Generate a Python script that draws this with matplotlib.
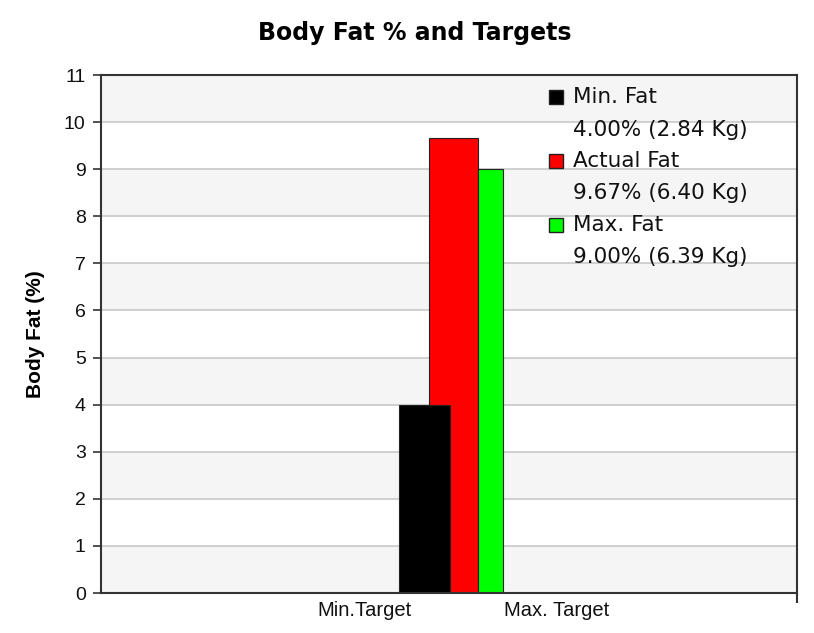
import matplotlib
matplotlib.use("Agg")
import matplotlib.pyplot as plt
from matplotlib.patches import Rectangle

# ---- data ----
title = "Body Fat % and Targets"
y_label = "Body Fat (%)"
x_tick_labels = ["Min.Target", "Max. Target"]
series_names = ["Min. Fat", "Actual Fat", "Max. Fat"]
fat_pct = [4.00, 9.67, 9.00]
fat_kg = [2.84, 6.40, 6.39]
series_colors = ["#000000", "#ff0000", "#00ff00"]
y_ticks = list(range(0, 12))

# ---- layout (axes fraction units) ----
bar_left = [0.4282, 0.4713, 0.5417]
bar_width = [0.0733, 0.0704, 0.0360]
x_tick_pos = [0.378, 0.654]
draw_order = [1, 0, 2]

fig = plt.figure(figsize=(8.14, 6.33), dpi=100)
fig.patch.set_facecolor("white")
ax = fig.add_axes([101 / 814, 40 / 633, 696 / 814, 518 / 633])
ax.set_facecolor("white")
ax.set_xlim(0, 1)
ax.set_ylim(0, 11)

# alternating bands
for lo in range(0, 11, 2):
    ax.axhspan(lo, lo + 1, color="#f5f5f5", zorder=0, lw=0)
for t in y_ticks[1:]:
    ax.axhline(t, color="#c4c4c4", lw=1.1, zorder=1)

for i in draw_order:
    ax.bar(bar_left[i], fat_pct[i], width=bar_width[i], align="edge",
           color=series_colors[i], edgecolor="#222222", linewidth=0.8, zorder=3 + (i == 0))

ax.set_yticks(y_ticks)
ax.set_yticklabels([str(t) for t in y_ticks], fontfamily="Liberation Sans", fontsize=14, color="#111111")
ax.set_xticks(x_tick_pos)
ax.set_xticklabels(x_tick_labels, fontfamily="Liberation Sans", fontsize=14.5, color="#111111")
ax.tick_params(axis="x", length=0, pad=6)
ax.tick_params(axis="y", length=6, width=1.2, color="#333333", pad=5)
ax.set_xticks([1.0], minor=True)
ax.tick_params(axis="x", which="minor", length=7, width=1.5, color="#333333")

for s in ax.spines.values():
    s.set_color("#333333")
    s.set_linewidth(1.5)
    s.set_zorder(5)

ax.set_ylabel(y_label, fontfamily="Liberation Sans", fontweight="bold", fontsize=15, labelpad=14)

fig.text(415 / 814, 1 - 33 / 633, title, ha="center", va="center",
         fontfamily="DejaVu Sans", fontweight="bold", fontsize=17)

# legend (manual)
sq = 14
ys_name = [97, 161, 225]
ys_val = [130, 193, 257]
for i in range(3):
    fig.patches.append(Rectangle((549 / 814, 1 - (ys_name[i] + sq / 2) / 633), sq / 814, sq / 633,
                                 transform=fig.transFigure, facecolor=series_colors[i],
                                 edgecolor="#222222", linewidth=1.0, zorder=6))
    fig.text(573 / 814, 1 - ys_name[i] / 633, series_names[i], ha="left", va="center",
             fontfamily="DejaVu Sans", fontsize=15.5, color="#111111", zorder=7)
    fig.text(573 / 814, 1 - ys_val[i] / 633, f"{fat_pct[i]:.2f}% ({fat_kg[i]:.2f} Kg)", ha="left",
             va="center", fontfamily="DejaVu Sans", fontsize=15.5, color="#111111", zorder=7)

fig.savefig("out.png", dpi=100, facecolor=fig.get_facecolor())
